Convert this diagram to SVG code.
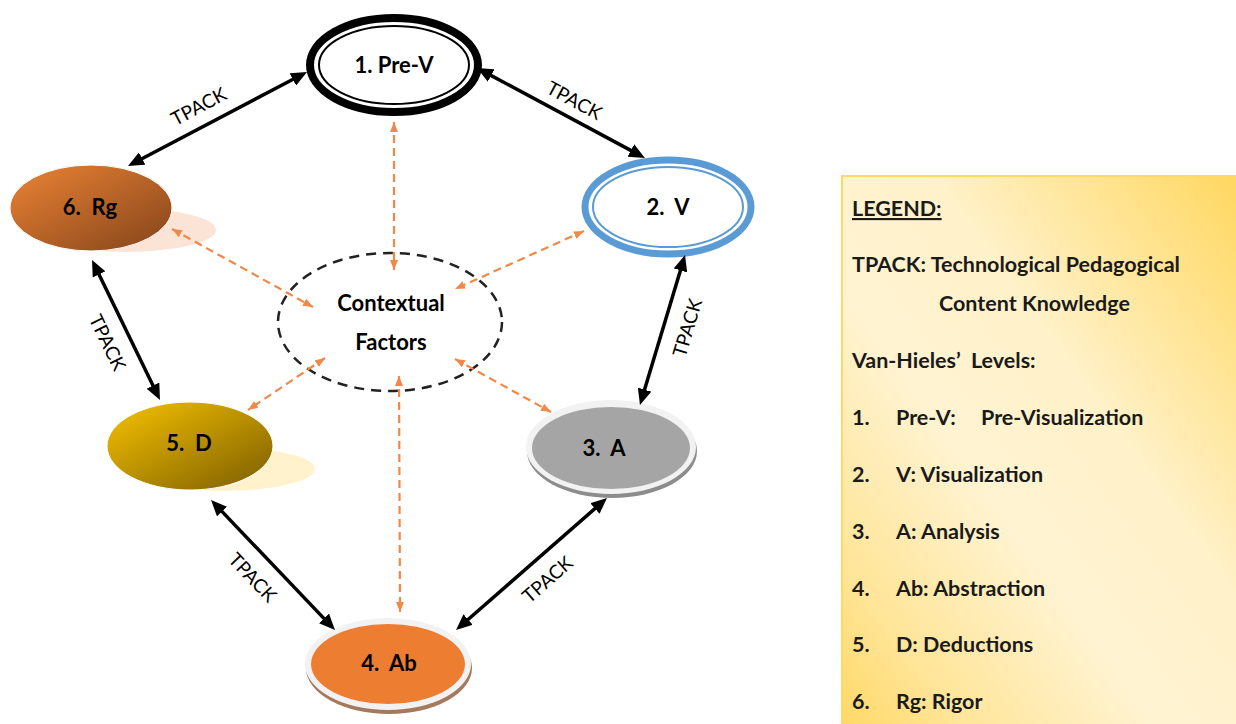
<svg xmlns="http://www.w3.org/2000/svg" width="1236" height="724" viewBox="0 0 1236 724">
  <style>
    .lbl { font-family: Lato, "Liberation Sans", sans-serif; font-weight: bold; font-size: 22px; fill: #000; text-anchor: middle; white-space: pre; }
    .edge { font-family: Lato, "Liberation Sans", sans-serif; font-size: 19px; fill: #000; text-anchor: middle; }
    .leg { font-family: Lato, "Liberation Sans", sans-serif; font-weight: bold; font-size: 21.5px; fill: #1a1a1a; white-space: pre; }
    .link { stroke: #000; stroke-width: 3.5; fill: none; marker-start: url(#head); marker-end: url(#head); }
    .ctx { stroke: #f08848; stroke-width: 2.2; stroke-dasharray: 8 5; fill: none; marker-start: url(#ohead); marker-end: url(#ohead); }
  </style>
  <defs>
    <marker id="head" viewBox="0 0 16 14" markerWidth="16" markerHeight="14" refX="3" refY="7" orient="auto-start-reverse" markerUnits="userSpaceOnUse">
      <path d="M0,0 L16,7 L0,14 z" fill="#000"/>
    </marker>
    <marker id="ohead" viewBox="0 0 10 8" markerWidth="10" markerHeight="8" refX="10" refY="4" orient="auto-start-reverse" markerUnits="userSpaceOnUse">
      <path d="M0,0 L10,4 L0,8 z" fill="#f08848"/>
    </marker>
    <linearGradient id="rgFill" x1="0" y1="0" x2="1" y2="1">
      <stop offset="0" stop-color="#ec8435"/>
      <stop offset="1" stop-color="#83431a"/>
    </linearGradient>
    <linearGradient id="dFill" x1="0" y1="0" x2="1" y2="1">
      <stop offset="0" stop-color="#f7c300"/>
      <stop offset="1" stop-color="#7a5c00"/>
    </linearGradient>
    <linearGradient id="legFill" x1="1" y1="0" x2="0" y2="1">
      <stop offset="0" stop-color="#ffd760"/>
      <stop offset="0.38" stop-color="#fff1c8"/>
      <stop offset="0.6" stop-color="#fff3d2"/>
      <stop offset="0.85" stop-color="#ffe598"/>
      <stop offset="1" stop-color="#ffd866"/>
    </linearGradient>
  </defs>

  <rect width="1236" height="724" fill="#fff"/>

  <!-- level 1: Pre-Visualization -->
  <g id="node-prev">
    <ellipse cx="394" cy="65" rx="84" ry="47" fill="#fff" stroke="#000" stroke-width="8"/>
    <ellipse cx="394" cy="65" rx="75" ry="39" fill="none" stroke="#000" stroke-width="2"/>
    <text class="lbl" x="394" y="73">1. Pre-V</text>
  </g>

  <!-- level 2: Visualization -->
  <g id="node-v">
    <ellipse cx="668" cy="207" rx="83" ry="47" fill="#fff" stroke="#5b9bd5" stroke-width="7"/>
    <ellipse cx="668" cy="207" rx="75" ry="40" fill="none" stroke="#5b9bd5" stroke-width="2"/>
    <text class="lbl" x="668" y="215">2.  V</text>
  </g>

  <!-- level 3: Analysis -->
  <g id="node-a">
    <ellipse cx="612" cy="451" rx="85" ry="47" fill="#8c8c8c"/>
    <ellipse cx="611" cy="447" rx="85" ry="47" fill="#f2f2f2"/>
    <ellipse cx="611" cy="448" rx="79" ry="41" fill="#a5a5a5"/>
    <text class="lbl" x="604" y="456">3.  A</text>
  </g>

  <!-- level 4: Abstraction -->
  <g id="node-ab">
    <ellipse cx="389" cy="668" rx="83" ry="46" fill="#a57a5c"/>
    <ellipse cx="388" cy="664" rx="83" ry="46" fill="#f2f2f2"/>
    <ellipse cx="388" cy="664" rx="77" ry="40" fill="#ed7d31"/>
    <text class="lbl" x="389" y="671">4.  Ab</text>
  </g>

  <!-- level 5: Deductions -->
  <g id="node-d">
    <ellipse cx="222" cy="469" rx="93" ry="22" fill="#fff2cc"/>
    <ellipse cx="190" cy="446" rx="83" ry="44" fill="url(#dFill)" stroke="#fff" stroke-width="1"/>
    <text class="lbl" x="189" y="451">5.  D</text>
  </g>

  <!-- level 6: Rigor -->
  <g id="node-rg">
    <ellipse cx="125" cy="230" rx="91" ry="22" fill="#fbe4d5"/>
    <ellipse cx="91" cy="208" rx="81" ry="43" fill="url(#rgFill)" stroke="#fff" stroke-width="1"/>
    <text class="lbl" x="90" y="215">6.  Rg</text>
  </g>

  <!-- contextual factors -->
  <g id="node-context">
    <ellipse cx="390" cy="322" rx="112" ry="69" fill="none" stroke="#222" stroke-width="2.5" stroke-dasharray="10 7"/>
    <text class="lbl" x="391" y="311">Contextual</text>
    <text class="lbl" x="391" y="350">Factors</text>
  </g>

  <!-- connectors, drawn over the soft node shadows -->
  <g id="connectors">
    <line class="link" x1="295.5" y1="78" x2="139.5" y2="160"/>
    <line class="link" x1="488.5" y1="74.1" x2="633.5" y2="151.9"/>
    <line class="link" x1="97.7" y1="271.7" x2="154.3" y2="388.3"/>
    <line class="link" x1="681.3" y1="267.5" x2="643.7" y2="392.5"/>
    <line class="link" x1="220" y1="509.4" x2="326" y2="620.6"/>
    <line class="link" x1="597.2" y1="506.6" x2="465.8" y2="621.5"/>

    <line class="ctx" x1="394" y1="122" x2="394" y2="270"/>
    <line class="ctx" x1="172" y1="229" x2="313" y2="307"/>
    <line class="ctx" x1="584" y1="231" x2="455" y2="289"/>
    <line class="ctx" x1="325" y1="358" x2="248" y2="410"/>
    <line class="ctx" x1="455" y1="359" x2="551" y2="412"/>
    <line class="ctx" x1="399" y1="376" x2="400" y2="612"/>

    <text class="edge" transform="translate(199,107) rotate(-27.7)" y="6">TPACK</text>
    <text class="edge" transform="translate(574,101) rotate(28.2)" y="6">TPACK</text>
    <text class="edge" transform="translate(107,343) rotate(64.1)" y="6">TPACK</text>
    <text class="edge" transform="translate(688,328) rotate(-73.3)" y="6">TPACK</text>
    <text class="edge" transform="translate(252,578) rotate(46.4)" y="6">TPACK</text>
    <text class="edge" transform="translate(548,580) rotate(-41.2)" y="6">TPACK</text>
  </g>

  <!-- legend -->
  <g id="legend">
    <rect x="842" y="176" width="396" height="550" fill="url(#legFill)" stroke="#ffd966" stroke-width="2"/>
    <text class="leg" x="852" y="216" text-decoration="underline">LEGEND:</text>
    <text class="leg" x="852" y="272">TPACK: Technological Pedagogical</text>
    <text class="leg" x="939" y="311">Content Knowledge</text>
    <text class="leg" x="852" y="368">Van-Hieles’  Levels:</text>
    <text class="leg" x="852" y="425">1.</text><text class="leg" x="896" y="425">Pre-V:</text><text class="leg" x="981" y="425">Pre-Visualization</text>
    <text class="leg" x="852" y="482">2.</text><text class="leg" x="896" y="482">V: Visualization</text>
    <text class="leg" x="852" y="539">3.</text><text class="leg" x="896" y="539">A: Analysis</text>
    <text class="leg" x="852" y="596">4.</text><text class="leg" x="896" y="596">Ab: Abstraction</text>
    <text class="leg" x="852" y="652">5.</text><text class="leg" x="896" y="652">D: Deductions</text>
    <text class="leg" x="852" y="709">6.</text><text class="leg" x="896" y="709">Rg: Rigor</text>
  </g>
</svg>
